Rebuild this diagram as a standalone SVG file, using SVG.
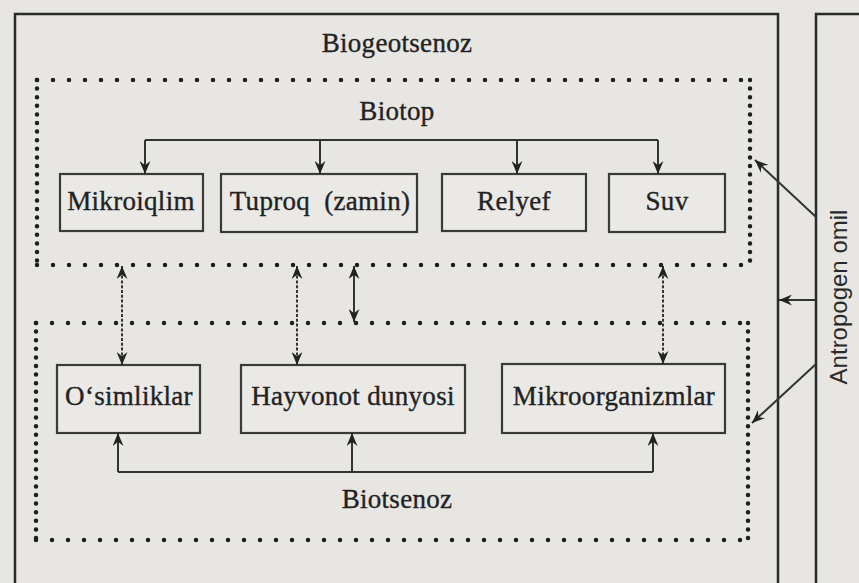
<svg xmlns="http://www.w3.org/2000/svg" width="859" height="583" viewBox="0 0 859 583">
<defs>
<style>
.bg{fill:#e8e6e3}
.frame{fill:none;stroke:#2a2a2a;stroke-width:2.5}
.box{fill:#ebe9e6;stroke:#3a3a3a;stroke-width:2.2}
.dotH{fill:none;stroke:#1e1e1e;stroke-width:4.5;stroke-linecap:round;stroke-dasharray:0 16}
.dotV{fill:none;stroke:#1e1e1e;stroke-width:4.5;stroke-linecap:round;stroke-dasharray:0 8.6}
.lbl{font-family:"Liberation Serif","Times New Roman",serif;font-size:27px;letter-spacing:0.3px;fill:#222;stroke:#222;stroke-width:0.35;text-anchor:middle}
.side{font-family:"Liberation Sans",Arial,sans-serif;font-size:24px;fill:#2a2a2a;text-anchor:middle}
.ln{fill:none;stroke:#333;stroke-width:2}
.arr{fill:none;stroke:#333;stroke-width:2;marker-end:url(#ah)}
.dbl{fill:none;stroke:#333;stroke-width:2;marker-end:url(#ah);marker-start:url(#ah)}
.dash{stroke-dasharray:3 1.8}
</style>
<marker id="ah" viewBox="0 0 12 10" refX="12" refY="5" markerWidth="13" markerHeight="11" markerUnits="userSpaceOnUse" orient="auto-start-reverse">
<path d="M0,0 L12,5 L0,10 L4,5 Z" fill="#222"/>
</marker>
</defs>
<rect class="bg" x="0" y="0" width="859" height="583"/>

<g id="biogeotsenoz">
<rect class="frame" x="15" y="14" width="763" height="575"/>
<text class="lbl" x="397" y="52">Biogeotsenoz</text>
</g>

<g id="antropogen-omil">
<rect class="frame" x="816" y="14" width="60" height="575"/>
<text class="side" transform="translate(838,297) rotate(-90)" dy="0.36em">Antropogen omil</text>
</g>

<g id="biotop">
<line class="dotH" x1="37" y1="80" x2="751" y2="80"/>
<line class="dotH" x1="37" y1="265" x2="751" y2="265"/>
<line class="dotV" x1="37" y1="80" x2="37" y2="265"/>
<line class="dotV" x1="750" y1="80" x2="750" y2="265"/>
<text class="lbl" x="397" y="120">Biotop</text>
</g>

<g id="biotsenoz">
<line class="dotH" x1="36" y1="323" x2="750" y2="323"/>
<line class="dotH" x1="36" y1="540" x2="750" y2="540"/>
<line class="dotV" x1="36" y1="323" x2="36" y2="540"/>
<line class="dotV" x1="748" y1="323" x2="748" y2="540"/>
<text class="lbl" x="397" y="508">Biotsenoz</text>
</g>

<g id="mikroiqlim">
<rect class="box" x="60" y="174" width="143" height="57"/>
<text class="lbl" x="131" y="210">Mikroiqlim</text>
</g>
<g id="tuproq">
<rect class="box" x="221" y="174" width="196" height="58"/>
<text class="lbl" x="320" y="210" xml:space="preserve">Tuproq  (zamin)</text>
</g>
<g id="relyef">
<rect class="box" x="442" y="174" width="144" height="57"/>
<text class="lbl" x="514" y="210">Relyef</text>
</g>
<g id="suv">
<rect class="box" x="609" y="174" width="116" height="58"/>
<text class="lbl" x="667" y="210">Suv</text>
</g>

<g id="osimliklar">
<rect class="box" x="57" y="365" width="143" height="68"/>
<text class="lbl" x="129" y="405">O‘simliklar</text>
</g>
<g id="hayvonot">
<rect class="box" x="241" y="365" width="224" height="68"/>
<text class="lbl" x="353" y="405">Hayvonot dunyosi</text>
</g>
<g id="mikroorganizmlar">
<rect class="box" x="502" y="364" width="223" height="69"/>
<text class="lbl" x="614" y="405">Mikroorganizmlar</text>
</g>

<g id="connectors">
<path class="ln" d="M145,140 H658"/>
<line class="arr" x1="145" y1="140" x2="145" y2="174"/>
<line class="arr" x1="320" y1="140" x2="320" y2="174"/>
<line class="arr" x1="517" y1="140" x2="517" y2="174"/>
<line class="arr" x1="658" y1="140" x2="658" y2="174"/>

<line class="dbl dash" x1="122" y1="266" x2="122" y2="365"/>
<line class="dbl dash" x1="297" y1="266" x2="297" y2="365"/>
<line class="dbl" x1="354" y1="266" x2="354" y2="322"/>
<line class="dbl dash" x1="663" y1="266" x2="663" y2="364"/>

<path class="ln" d="M118,472 H653"/>
<line class="arr" x1="118" y1="472" x2="118" y2="433"/>
<line class="arr" x1="352" y1="472" x2="352" y2="433"/>
<line class="arr" x1="653" y1="472" x2="653" y2="433"/>

<line class="arr" x1="816" y1="217" x2="755" y2="160"/>
<line class="arr" x1="816" y1="300" x2="779" y2="300"/>
<line class="arr" x1="816" y1="364" x2="752" y2="423"/>
</g>
</svg>
